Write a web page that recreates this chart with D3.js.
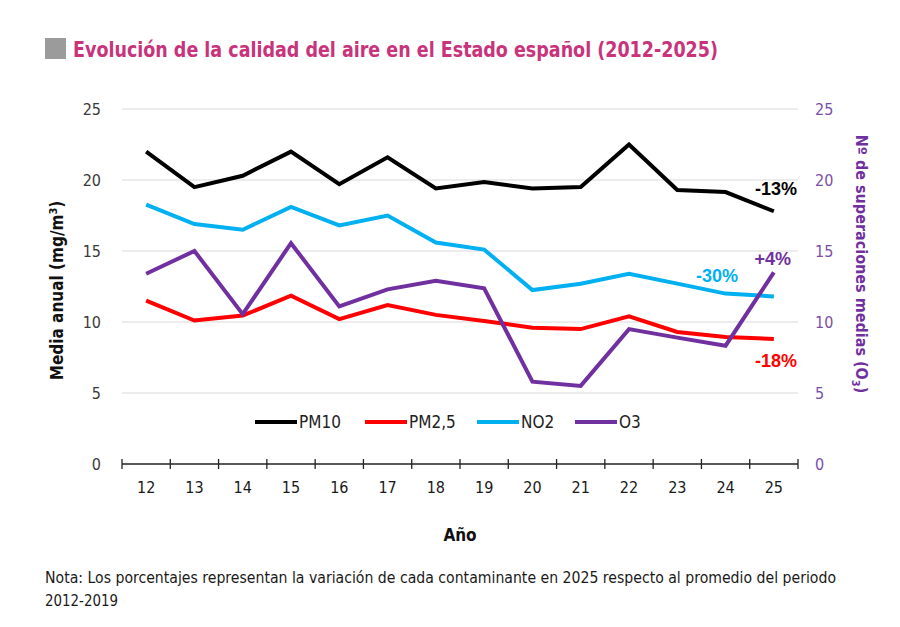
<!DOCTYPE html>
<html><head><meta charset="utf-8">
<script src="https://cdn.jsdelivr.net/npm/d3@7"></script>
<style>
body{margin:0;background:#fff;}
text{font-family:"Liberation Sans Narrow","DejaVu Sans Condensed","Arial Narrow",sans-serif;}
</style></head>
<body><svg id="c" width="900" height="627"></svg>
<script>
const years = ["12","13","14","15","16","17","18","19","20","21","22","23","24","25"];
const pm10 = [22.0,19.5,20.3,22.0,19.7,21.6,19.4,19.85,19.4,19.5,22.5,19.3,19.15,17.8];
const pm25 = [11.5,10.1,10.45,11.85,10.2,11.2,10.5,10.07,9.6,9.5,10.4,9.3,8.95,8.8];
const no2  = [18.27,16.9,16.5,18.1,16.8,17.5,15.6,15.1,12.25,12.7,13.4,12.7,12.0,11.8];
const o3   = [13.4,15.0,10.55,15.55,11.1,12.3,12.9,12.37,5.8,5.5,9.5,8.9,8.33,13.5];
const yTicks = [0,5,10,15,20,25];
const seriesNames = ["PM10","PM2,5","NO2","O3"];
const seriesColors = ["#000000","#ff0000","#00b0f0","#7030a0"];
const changeLabels = ["-13%","-18%","-30%","+4%"];
const titleText = "Evolución de la calidad del aire en el Estado español (2012-2025)";
const noteLines = ["Nota: Los porcentajes representan la variación de cada contaminante en 2025 respecto al promedio del periodo","2012-2019"];

const svg = d3.select("#c");
const L = 122, R = 798, T = 109, B = 464;
const x = d3.scaleBand().domain(years).range([L,R]);
const y = d3.scaleLinear().domain([0,25]).range([B,T]);
const y2 = d3.scaleLinear().domain([0,25]).range([B,T]);

// title
svg.append("rect").attr("x",45).attr("y",38).attr("width",21).attr("height",21).attr("fill","#9b9b9b");
svg.append("text").attr("x",73).attr("y",57).attr("font-size",22).attr("font-weight","bold")
  .attr("fill","#c8337b").attr("textLength",645).attr("lengthAdjust","spacingAndGlyphs").text(titleText);

// gridlines
svg.append("g").selectAll("line").data(yTicks.filter(d=>d>0)).join("line")
  .attr("x1",L).attr("x2",R).attr("y1",d=>y(d)).attr("y2",d=>y(d))
  .attr("stroke","#d9d9d9").attr("stroke-width",1);

// left axis labels
const ga = d3.axisLeft(y).tickValues(yTicks).tickSize(0).tickPadding(21);
const gl = svg.append("g").attr("transform",`translate(${L},0)`).call(ga);
gl.select(".domain").remove();
gl.selectAll("text").attr("font-size",16).attr("fill","#3a3a3a").attr("font-family",null);

// right axis labels
const gr = svg.append("g").attr("transform",`translate(${R},0)`).call(d3.axisRight(y2).tickValues(yTicks).tickSize(0).tickPadding(17));
gr.select(".domain").remove();
gr.selectAll("text").attr("font-size",16).attr("fill","#7b4fa8").attr("font-family",null);

// x axis
const gx = svg.append("g").attr("transform",`translate(0,${B})`).call(d3.axisBottom(x).tickSize(0).tickPadding(18));
gx.select(".domain").remove();
gx.selectAll("text").attr("font-size",16).attr("fill","#1a1a1a").attr("font-family",null);
svg.append("line").attr("x1",L).attr("x2",R).attr("y1",B).attr("y2",B).attr("stroke","#222").attr("stroke-width",1.3);
const bounds = years.map(d=>x(d)).concat([x.range()[1]]);
svg.append("g").selectAll("line").data(bounds).join("line")
  .attr("x1",d=>d).attr("x2",d=>d).attr("y1",B-5).attr("y2",B+5).attr("stroke","#222").attr("stroke-width",1.3);

// axis titles
svg.append("text").attr("transform",`translate(63,${(T+B)/2+4}) rotate(-90)`).attr("text-anchor","middle")
  .attr("font-size",17).attr("font-weight","bold").attr("fill","#111")
  .html('Media anual (mg/m<tspan dy="-6" font-size="11">3</tspan><tspan dy="6">)</tspan>');
svg.append("text").attr("transform",`translate(856,264) rotate(90)`).attr("text-anchor","middle")
  .attr("font-size",16).attr("font-weight","bold").attr("fill","#7030a0")
  .html('Nº de superaciones medias (O<tspan dy="4" font-size="11">3</tspan><tspan dy="-4">)</tspan>');
svg.append("text").attr("x",460).attr("y",541).attr("text-anchor","middle").attr("font-size",17)
  .attr("font-weight","bold").attr("fill","#111").text("Año");

// lines
const cx = d=>x(d)+x.bandwidth()/2;
const data = [pm10,pm25,no2,o3];
const scales = [y,y,y,y2];
data.forEach((vals,i)=>{
  const line = d3.line().x((d,j)=>cx(years[j])).y(d=>scales[i](d));
  svg.append("path").datum(vals).attr("d",line).attr("fill","none")
    .attr("stroke",seriesColors[i]).attr("stroke-width",4).attr("stroke-linejoin","miter");
});
// legend
const legX = [255,365,477,575];
seriesNames.forEach((n,i)=>{
  svg.append("line").attr("x1",legX[i]).attr("x2",legX[i]+42).attr("y1",422).attr("y2",422)
    .attr("stroke",seriesColors[i]).attr("stroke-width",4);
  svg.append("text").attr("x",legX[i]+44).attr("y",428).attr("font-size",17).attr("fill","#222").text(n);
});

// change labels
const lab = [
  {t:changeLabels[0],x:797,y:195,c:"#000000"},
  {t:changeLabels[1],x:797,y:367,c:"#ff0000"},
  {t:changeLabels[2],x:738,y:282,c:"#00b0f0"},
  {t:changeLabels[3],x:791,y:265,c:"#7030a0"}
];
svg.append("g").selectAll("text").data(lab).join("text")
  .attr("x",d=>d.x).attr("y",d=>d.y).attr("text-anchor","end").attr("font-size",18).attr("font-weight","bold")
  .style("font-family","'Liberation Sans',Arial,sans-serif").attr("fill",d=>d.c).text(d=>d.t);

// note
svg.append("text").attr("x",45).attr("y",583).attr("font-size",15).attr("fill","#1a1a1a")
  .attr("textLength",791).attr("lengthAdjust","spacingAndGlyphs").text(noteLines[0]);
svg.append("text").attr("x",45).attr("y",606).attr("font-size",15).attr("fill","#1a1a1a")
  .attr("textLength",73).attr("lengthAdjust","spacingAndGlyphs").text(noteLines[1]);
</script></body></html>
